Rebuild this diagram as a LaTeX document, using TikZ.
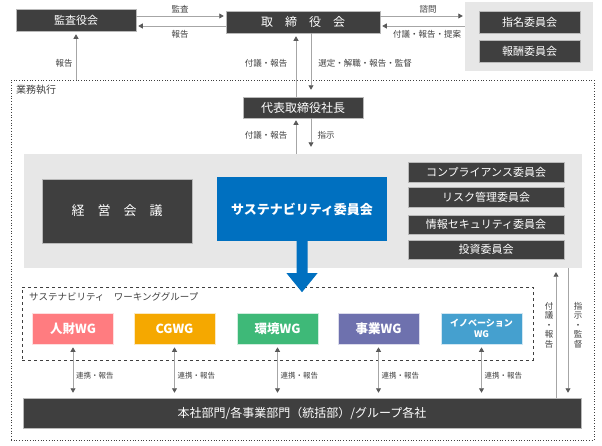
\documentclass[tikz,border=0pt]{standalone}
\usepackage{fontspec}
\setmainfont{Noto Sans CJK JP}
\usetikzlibrary{arrows.meta}

\definecolor{boxdark}{HTML}{3F3F3F}
\definecolor{panelgray}{HTML}{E7E7E7}
\definecolor{susblue}{HTML}{0070C0}
\definecolor{hrpink}{HTML}{FF7C80}
\definecolor{cgorange}{HTML}{F5A800}
\definecolor{envgreen}{HTML}{3EB978}
\definecolor{bizpurple}{HTML}{6E71AE}
\definecolor{innoblue}{HTML}{45A0CF}
\definecolor{linegray}{HTML}{A6A6A6}
\definecolor{tipgray}{HTML}{595959}
\definecolor{labeltext}{HTML}{404040}

\tikzset{
    darkbox/.style={fill=boxdark,draw=gray!55,line width=0.5pt,text=white,inner sep=0pt,
        font=\fontsize{11}{13}\selectfont},
    wgbox/.style={fill=#1,draw=white!75!#1,line width=0.6pt,text=white,inner sep=0pt,
        minimum width=81pt,minimum height=31pt,align=center,
        font=\bfseries\fontsize{12.5}{14}\selectfont},
    link/.style={draw=linegray,line width=0.7pt,
        -{Triangle[length=4.5pt,width=5pt,color=tipgray]}},
    twoway/.style={draw=linegray,line width=0.7pt,
        {Triangle[length=4.5pt,width=5pt,color=tipgray]}-{Triangle[length=4.5pt,width=5pt,color=tipgray]}},
    lbl/.style={font=\fontsize{8.5}{9.5}\selectfont,text=labeltext,inner sep=0pt}
}

\begin{document}
\begin{tikzpicture}[x=1pt,y=-1pt]
        \useasboundingbox (0,0) rectangle (602,445);

        % board level
        \node[darkbox,minimum width=120pt,minimum height=22pt] (kansa) at (76,20) {監査役会};
        \node[darkbox,minimum width=154pt,minimum height=22pt,font=\fontsize{12}{14}\selectfont] (board) at (303,22) {取　締　役　会};
        \node[fill=panelgray,minimum width=128pt,minimum height=69pt,inner sep=0pt] (advisory) at (529,36.5) {};
        \node[darkbox,minimum width=101pt,minimum height=22pt] (nomin) at (529.5,22) {指名委員会};
        \node[darkbox,minimum width=101pt,minimum height=22pt] (remun) at (529.5,51) {報酬委員会};

        \draw[link,shorten >=2pt] (kansa.east |- 0,16) -- (board.west |- 0,16);
        \draw[link,shorten >=2pt] (board.west |- 0,26) -- (kansa.east |- 0,26);
        \node[lbl] (laudit) at (180,9) {監査};
        \node[lbl] (lreport) at (180,34) {報告};
        \draw[link,shorten >=2pt] (board.east |- 0,16) -- (advisory.west |- 0,16);
        \draw[link,shorten >=2pt] (advisory.west |- 0,26) -- (board.east |- 0,26);
        \node[lbl] (lconsult) at (428,9) {諮問};
        \node[lbl] (lpropose) at (427,34) {付議・報告・提案};

        % execution
        \node[draw=boxdark,dotted,line width=0.7pt,minimum width=583pt,minimum height=360pt,inner sep=0pt] (exec) at (302.5,260) {};
        \node[lbl,anchor=west,font=\fontsize{10}{12}\selectfont] (execlbl) at (16,90) {業務執行};
        \draw[link,shorten >=3pt] (exec.north -| kansa.south) -- (kansa.south);
        \node[lbl] (lkansa) at (64,63) {報告};

        \node[darkbox,minimum width=120pt,minimum height=21pt,font=\fontsize{12}{14}\selectfont] (ceo) at (303,107.5) {代表取締役社長};
        \draw[link,shorten >=3pt] (ceo.north -| 296,0) -- (board.south -| 296,0);
        \draw[link,shorten >=7pt] (board.south -| 311,0) -- (ceo.north -| 311,0);
        \node[lbl] (lup) at (266,63) {付議・報告};
        \node[lbl] (ldown) at (365,63) {選定・解職・報告・監督};

        \node[fill=panelgray,minimum width=558pt,minimum height=114pt,inner sep=0pt] (council) at (303,211) {};
        \draw[link,shorten >=2pt] (council.north -| 296,0) -- (ceo.south -| 296,0);
        \draw[link,shorten >=7pt] (ceo.south -| 311,0) -- (council.north -| 311,0);
        \node[lbl] (lup2) at (266,135) {付議・報告};
        \node[lbl] (ldown2) at (326,135) {指示};

        \node[darkbox,minimum width=150pt,minimum height=64pt,font=\fontsize{13}{15}\selectfont] (mgmt) at (117,211) {経　営　会　議};
        \node[fill=susblue,text=white,minimum width=170pt,minimum height=64pt,inner sep=0pt,font=\bfseries\fontsize{13}{15}\selectfont] (susty) at (302,209) {サステナビリティ委員会};
        \node[darkbox,minimum width=156pt,minimum height=19.5pt] (comp) at (486,172) {コンプライアンス委員会};
        \node[darkbox,minimum width=156pt,minimum height=19.5pt] (risk) at (486,197) {リスク管理委員会};
        \node[darkbox,minimum width=156pt,minimum height=19.5pt] (infosec) at (486,224.5) {情報セキュリティ委員会};
        \node[darkbox,minimum width=156pt,minimum height=19.5pt] (invest) at (486,249.5) {投資委員会};

        % working groups
        \node[draw=boxdark,dashed,line width=0.8pt,minimum width=511pt,minimum height=73pt,inner sep=0pt] (wggroup) at (277.5,323.5) {};
        \node[lbl,anchor=west,font=\fontsize{9.5}{11}\selectfont] (wglbl) at (29,297) {サステナビリティ　ワーキンググループ};
        \fill[susblue] ([xshift=-5.5pt]susty.south) -- ([xshift=5.5pt]susty.south)
            -- ([xshift=5.5pt,yshift=-32pt]susty.south) -- ([xshift=15.5pt,yshift=-32pt]susty.south)
            -- ([yshift=-51pt]susty.south) -- ([xshift=-15.5pt,yshift=-32pt]susty.south)
            -- ([xshift=-5.5pt,yshift=-32pt]susty.south) -- cycle;

        \node[wgbox=hrpink] (wg1) at (73,328.5) {人財WG};
        \node[wgbox=cgorange] (wg2) at (174.5,328.5) {CGWG};
        \node[wgbox=envgreen] (wg3) at (277.5,328.5) {環境WG};
        \node[wgbox=bizpurple] (wg4) at (378.5,328.5) {事業WG};
        \node[wgbox=innoblue,font=\bfseries\fontsize{9}{11}\selectfont] (wg5) at (481.5,328.5) {イノベーション\\WG};

        \node[darkbox,minimum width=558pt,minimum height=30pt,font=\fontsize{12}{14}\selectfont] (hq) at (302,413) {本社部門/各事業部門（統括部）/グループ各社};

        \foreach \w in {wg1,wg2,wg3,wg4,wg5}{
            \draw[twoway,shorten <=3pt,shorten >=5pt] (\w.south) -- (hq.north -| \w.south);
            \node[lbl,anchor=west,font=\fontsize{7.5}{9}\selectfont] (l\w) at ([xshift=3pt,yshift=-31pt]\w.south) {連携・報告};
        }

        \coordinate (upx) at (556,0);
        \coordinate (downx) at (568,0);
        \draw[link,shorten >=4pt] (hq.north -| upx) -- (council.south -| upx);
        \draw[link,shorten >=5pt] (council.south -| downx) -- (hq.north -| downx);
        \node[lbl,align=center] (lup3) at (549,325) {付\\議\\・\\報\\告};
        \node[lbl,align=center] (ldown3) at (578,325) {指\\示\\・\\監\\督};
\end{tikzpicture}
\end{document}
